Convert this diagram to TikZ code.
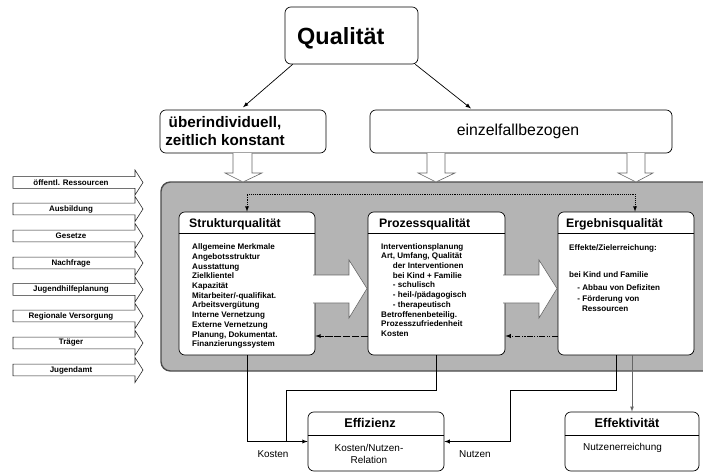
\documentclass[tikz,border=0pt]{standalone}
\usepackage{fontspec}
\setmainfont{Liberation Sans}
\usetikzlibrary{positioning}

\begin{document}
\begin{tikzpicture}[x=0.03cm,y=-0.03cm,
		qbox/.style={draw,rounded corners=5pt,fill=white,inner sep=0pt,line width=0.6pt},
		hollowarrow/.style={draw=black!60,fill=white,line width=0.5pt},
		inarrow/.style={draw=black!85,fill=white,line width=0.5pt},
		inlabel/.style={inner sep=0pt,font=\fontsize{6.8}{8}\selectfont\bfseries},
		bodytext/.style={anchor=north west,inner sep=0pt,align=left,font=\fontsize{6.9}{8.3}\selectfont\bfseries},
		boxtitle/.style={anchor=base west,inner sep=0pt,font=\fontsize{10.5}{12}\selectfont\bfseries},
		smalltext/.style={inner sep=0pt,align=center,font=\fontsize{8.5}{10}\selectfont},
		conn/.style={line width=0.6pt}]
		\definecolor{panelgray}{HTML}{B4B4B4}
		\useasboundingbox (0,0) rectangle (703,472);
		
		% Qualitaet oben
		\node[qbox,minimum width=3.99cm,minimum height=1.71cm] (qual) at (351.5,35.5) {};
		\node[anchor=base west,inner sep=0pt,font=\fontsize{20}{24}\selectfont\bfseries] (qualtxt) at (297,44) {Qualität};
		\node[qbox,minimum width=4.98cm,minimum height=1.29cm] (ueber) at (243,131.5) {};
		\node[inner sep=0pt,align=center,font=\fontsize{13}{15.4}\selectfont\bfseries] (uebertxt) at (225,131) {überindividuell,\\zeitlich konstant};
		\node[qbox,minimum width=9.06cm,minimum height=1.29cm] (einzel) at (521,131.5) {};
		\node[inner sep=0pt,font=\fontsize{13.5}{16}\selectfont] (einzeltxt) at (518,131) {einzelfallbezogen};
		\draw[conn,-latex] ([xshift=0.24cm]qual.south west) -- ([yshift=2pt]ueber.north);
		\draw[conn,-latex] ([xshift=-0.09cm]qual.south east) -- ([xshift=-1.5cm,yshift=1pt]einzel.north);
		
		% grauer Rahmen
		\draw[draw=black!70,line width=1.2pt,fill=panelgray,rounded corners=8pt] (161,182) rectangle (745,371);
		
		% Pfeile von oben
		\path[hollowarrow] (233,153) -- (233,173) -- (225,173) -- (243,182) -- (262,173) -- (252,173) -- (252,153);
		\path[hollowarrow] (427,153) -- (427,173) -- (418,173) -- (436,182) -- (455,173) -- (445,173) -- (445,153);
		\path[hollowarrow] (627,153) -- (627,173) -- (618,173) -- (636,182) -- (653,173) -- (645,173) -- (645,153);
		
		% Eingaenge links
		\foreach \yy/\txt [count=\i] in {182.5/{öffentl. Ressourcen},209/Ausbildung,236/Gesetze,263/Nachfrage,289.5/Jugendhilfeplanung,316/{Regionale Versorgung},343/Träger,370/Jugendamt}{
			\path[inarrow] (13,\yy-5.8) -- (135,\yy-5.8) -- (135,\yy-12.5) -- (143,\yy) -- (135,\yy+12.5) -- (135,\yy+5.8) -- (13,\yy+5.8) -- cycle;
			\node[inlabel] (in\i) at (71,\yy) {\txt};
		}
		
		% Struktur / Prozess / Ergebnis
		\node[qbox,minimum width=4.08cm,minimum height=4.29cm] (struk) at (247,283.5) {};
		\node[qbox,minimum width=4.11cm,minimum height=4.29cm] (proz) at (436.5,283.5) {};
		\node[qbox,minimum width=4.08cm,minimum height=4.29cm] (ergeb) at (626,283.5) {};
		\foreach \b in {struk,proz,ergeb}
			\draw[line width=0.6pt] (\b.west |- 0,233) -- (\b.east |- 0,233);
		\node[boxtitle] (struktitle) at (189,227) {Strukturqualität};
		\node[boxtitle] (proztitle) at (379,227) {Prozessqualität};
		\node[boxtitle] (ergebtitle) at (566,227) {Ergebnisqualität};
		
		\node[bodytext] (strukbody) at (192,243.5) {Allgemeine Merkmale\\Angebotsstruktur\\Ausstattung\\Zielklientel\\Kapazität\\Mitarbeiter/-qualifikat.\\Arbeitsvergütung\\Interne Vernetzung\\Externe Vernetzung\\Planung, Dokumentat.\\Finanzierungssystem};
		\node[bodytext] (prozbody) at (381,243) {Interventionsplanung\\Art, Umfang, Qualität\\\hspace*{10pt}der Interventionen\\\hspace*{10pt}bei Kind + Familie\\\hspace*{10pt}- schulisch\\\hspace*{10pt}- heil-/pädagogisch\\\hspace*{10pt}- therapeutisch\\Betroffenenbeteilig.\\Prozesszufriedenheit\\Kosten};
		\node[bodytext] (ergebbody) at (569,244) {Effekte/Zielerreichung:};
		\node[bodytext] (ergebbody2) at (569,271.5) {bei Kind und Familie\\[2.5pt]\hspace*{7pt}- Abbau von Defiziten\\[1.5pt]\hspace*{7pt}- Förderung von\\\hspace*{11pt}Ressourcen};
		
		% breite Pfeile
		\path[hollowarrow] (313,275) -- (349,275) -- (349,260) -- (367,288.5) -- (349,318) -- (349,303) -- (313,303);
		\path[hollowarrow] (503,275) -- (539,275) -- (539,260) -- (557,288.5) -- (539,318) -- (539,303) -- (503,303);
		
		% Rueckkopplung
		\draw[conn,latex-latex,densely dotted] (struk.north) -- (struk.north |- 0,194) -| ([xshift=0.27cm]ergeb.north);
		\draw[conn,-latex,dash pattern=on 6pt off 1.5pt] (proz.west |- 0,336) -- (struk.east |- 0,336);
		\draw[conn,-latex,dash pattern=on 5pt off 1.2pt on 1pt off 1.2pt on 1pt off 1.2pt] (ergeb.west |- 0,336) -- (proz.east |- 0,336);
		
		% Effizienz / Effektivitaet
		\node[qbox,minimum width=4.08cm,minimum height=1.77cm] (effiz) at (376,441.5) {};
		\node[qbox,minimum width=4.02cm,minimum height=1.77cm] (effekt) at (632,441.5) {};
		\foreach \b in {effiz,effekt}
			\draw[line width=0.6pt] (\b.west |- 0,435) -- (\b.east |- 0,435);
		\node[inner sep=0pt,font=\fontsize{10.8}{12}\selectfont\bfseries] (efftitle) at (370,423) {Effizienz};
		\node[inner sep=0pt,font=\fontsize{10.8}{12}\selectfont\bfseries] (efktitle) at (627,423) {Effektivität};
		\node[smalltext] (effbody) at (369,454) {Kosten/Nutzen-\\Relation};
		\node[smalltext,anchor=west] (efkbody) at (583,448) {Nutzenerreichung};
		
		\coordinate (kjoin) at (286,441.5);
		\draw[conn,-latex] (struk.south) |- (effiz.west);
		\draw[conn] (proz.south) |- (286,390) -- (kjoin);
		\draw[conn,-latex] ([xshift=-0.3cm]ergeb.south) |- (510,390) |- (effiz.east);
		\draw[line width=0.5pt,draw=black!60,-latex] (effekt.north |- ergeb.south) -- (effekt.north);
		\node[smalltext] (kostenlbl) at (273,454) {Kosten};
		\node[smalltext] (nutzenlbl) at (475,454) {Nutzen};
		
		\end{tikzpicture}
\end{document}
